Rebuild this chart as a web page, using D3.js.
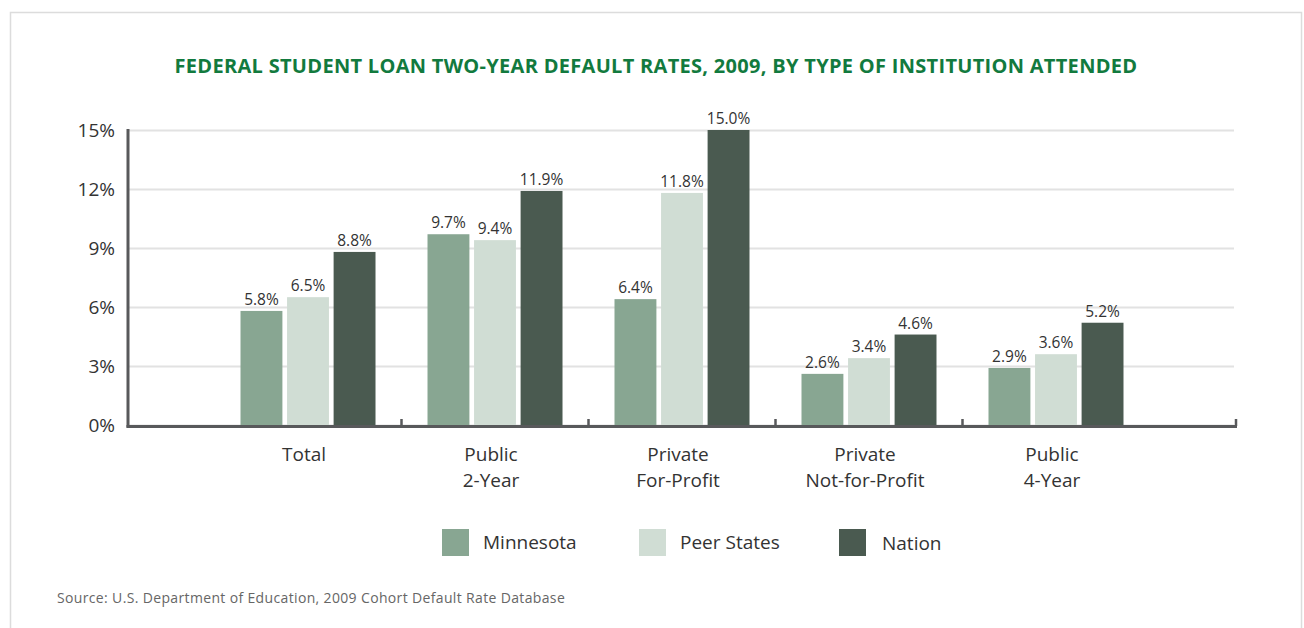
<!DOCTYPE html>
<html>
<head>
<meta charset="utf-8">
<script src="https://cdn.jsdelivr.net/npm/d3@7"></script>
<style>
  html, body { margin: 0; padding: 0; background: #fff; }
  svg { display: block; font-family: "Open Sans", "Noto Sans", sans-serif; }
</style>
</head>
<body>
<svg id="chart" width="1304" height="628"></svg>
<script>
const categories = ["Total", "Public\n2-Year", "Private\nFor-Profit", "Private\nNot-for-Profit", "Public\n4-Year"];
const seriesNames = ["Minnesota", "Peer States", "Nation"];
const minnesota = [5.8, 9.7, 6.4, 2.6, 2.9];
const peerStates = [6.5, 9.4, 11.8, 3.4, 3.6];
const nation = [8.8, 11.9, 15.0, 4.6, 5.2];
const yTicks = [0, 3, 6, 9, 12, 15];
const colors = ["#88a692", "#d0ddd4", "#4a5a50"];
const title = "FEDERAL STUDENT LOAN TWO-YEAR DEFAULT RATES, 2009, BY TYPE OF INSTITUTION ATTENDED";
const source = "Source: U.S. Department of Education, 2009 Cohort Default Rate Database";

const seriesValues = [minnesota, peerStates, nation];

const svg = d3.select("#chart");

// outer frame
svg.append("rect")
  .attr("x", 10.5).attr("y", 12.5).attr("width", 1291).attr("height", 640)
  .attr("fill", "none").attr("stroke", "#dcdcdc").attr("stroke-width", 1.5);

// title
svg.append("text")
  .attr("x", 656).attr("y", 73)
  .attr("text-anchor", "middle")
  .attr("fill", "#127a3e")
  .attr("font-weight", 700)
  .attr("font-size", 20)
  .attr("letter-spacing", 0.3)
  .text(title);

const pLeft = 128, pRight = 1236, pTop = 130, pBottom = 425;

const x = d3.scaleBand().domain(categories).range([pLeft, pRight]).paddingInner(0).paddingOuter(0.4626);
const x1 = d3.scaleBand().domain(seriesNames).range([0, 135]).paddingInner(0.1).paddingOuter(0);
const y = d3.scaleLinear().domain([0, 15]).range([pBottom, pTop]);

// gridlines + y labels via axis
const yAxis = d3.axisLeft(y).tickValues(yTicks).tickSize(-(pRight - pLeft - 2)).tickFormat(d => d + "%").tickPadding(13);
const gy = svg.append("g").attr("transform", `translate(${pLeft},0)`).call(yAxis);
gy.select(".domain").remove();
gy.selectAll(".tick line").attr("stroke", "#e2e2e2").attr("stroke-width", 2);
gy.selectAll(".tick text")
  .attr("fill", "#333")
  .attr("font-size", 19)
  .attr("font-family", "\"Open Sans\", sans-serif");

// bars
const groups = svg.append("g").selectAll("g")
  .data(categories)
  .join("g")
  .attr("transform", c => `translate(${x(c) + (x.bandwidth() - 135) / 2},0)`);

groups.each(function(c, ci) {
  const g = d3.select(this);
  seriesNames.forEach((s, si) => {
    const v = seriesValues[si][ci];
    g.append("rect")
      .attr("x", x1(s)).attr("y", y(v))
      .attr("width", x1.bandwidth()).attr("height", y(0) - y(v))
      .attr("fill", colors[si]);
    g.append("text")
      .attr("x", x1(s) + x1.bandwidth() / 2)
      .attr("y", y(v) - 6)
      .attr("text-anchor", "middle")
      .attr("fill", "#333")
      .attr("font-size", 15.5)
      .text(v.toFixed(1) + "%");
  });
});

// axes lines
svg.append("line").attr("x1", pLeft).attr("x2", pLeft).attr("y1", pTop - 1).attr("y2", pBottom + 2.5)
  .attr("stroke", "#58595b").attr("stroke-width", 3);
svg.append("line").attr("x1", pLeft - 1.5).attr("x2", pRight + 1).attr("y1", pBottom + 1.5).attr("y2", pBottom + 1.5)
  .attr("stroke", "#58595b").attr("stroke-width", 3);
const tickXs = categories.slice(1).map(c => x(c)).concat([pRight]);
svg.append("g").selectAll("line").data(tickXs).join("line")
  .attr("x1", d => d).attr("x2", d => d)
  .attr("y1", pBottom - 6).attr("y2", pBottom + 1)
  .attr("stroke", "#58595b").attr("stroke-width", 2.5);

// category labels
const xAxis = d3.axisBottom(x).tickSize(0).tickPadding(0).tickFormat("");
const gx = svg.append("g").attr("transform", `translate(0,${pBottom})`).call(xAxis);
gx.select(".domain").remove();
gx.selectAll(".tick").each(function(c) {
  const t = d3.select(this).append("text")
    .attr("text-anchor", "middle")
    .attr("fill", "#333")
    .attr("font-size", 19)
    .attr("font-family", "\"Open Sans\", sans-serif");
  c.split("\n").forEach((line, i) => {
    t.append("tspan").attr("x", -4).attr("y", 36 + i * 26).text(line);
  });
});

// legend
const legendX = [442, 639, 839];
const lg = svg.append("g").selectAll("g").data(seriesNames).join("g")
  .attr("transform", (d, i) => `translate(${legendX[i]},529)`);
lg.append("rect").attr("width", 27).attr("height", 27).attr("fill", (d, i) => colors[i]);
lg.append("text").attr("x", (d, i) => i === 2 ? 43 : 41).attr("y", (d, i) => i === 2 ? 21 : 20)
  .attr("fill", "#333").attr("font-size", 19).text(d => d);

// source
svg.append("text").attr("x", 57).attr("y", 603)
  .attr("fill", "#666").attr("font-size", 14).attr("letter-spacing", 0.35).text(source);
</script>
</body>
</html>
